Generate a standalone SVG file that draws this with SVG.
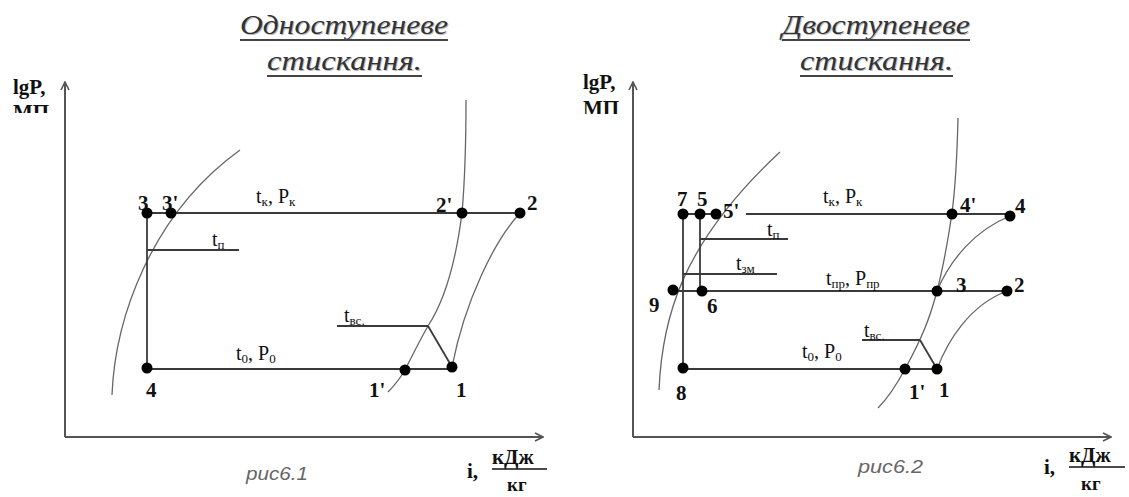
<svg xmlns="http://www.w3.org/2000/svg" width="1129" height="497" viewBox="0 0 1129 497">
<style>
.ax{stroke:#555;stroke-width:2;fill:none}
.ln{stroke:#3a3a3a;stroke-width:1.8;fill:none}
.cv{stroke:#666;stroke-width:1.3;fill:none}
.dot{fill:#000}
.lb{font-family:"Liberation Serif",serif;font-weight:bold;font-size:21px;fill:#111}
.tx{font-family:"Liberation Serif",serif;font-size:20px;fill:#111}
.sub{font-size:13px}
.ttl{font-family:"Liberation Serif",serif;font-style:italic;font-size:27px;fill:#333}
.sh{fill:#bbb}
.cap{font-family:"Liberation Sans",sans-serif;font-style:italic;font-size:19px;fill:#666}
.ul{stroke:#444;stroke-width:2}
.kg{font-size:19px}
</style>
<defs>
<marker id="arr" viewBox="0 0 10 10" refX="9" refY="5" markerWidth="10" markerHeight="10" markerUnits="userSpaceOnUse" orient="auto">
<path d="M1,1 L9,5 L1,9" fill="none" stroke="#555" stroke-width="1.6"/>
</marker>
<clipPath id="clipL"><rect x="0" y="95" width="70" height="18"/></clipPath>
<clipPath id="clipR"><rect x="570" y="95" width="70" height="19"/></clipPath>
</defs>
<rect width="1129" height="497" fill="#fff"/>

<g id="titles">
<text class="ttl sh" x="241" y="35" textLength="208" lengthAdjust="spacingAndGlyphs">Одноступеневе</text>
<text class="ttl" x="240" y="34" textLength="208" lengthAdjust="spacingAndGlyphs">Одноступеневе</text>
<line class="ul" x1="240" y1="40" x2="448" y2="40"/>
<text class="ttl sh" x="268" y="71" textLength="155" lengthAdjust="spacingAndGlyphs">стискання.</text>
<text class="ttl" x="267" y="70" textLength="155" lengthAdjust="spacingAndGlyphs">стискання.</text>
<line class="ul" x1="267" y1="76" x2="422" y2="76"/>
<text class="ttl sh" x="783" y="35" textLength="188" lengthAdjust="spacingAndGlyphs">Двоступеневе</text>
<text class="ttl" x="782" y="34" textLength="188" lengthAdjust="spacingAndGlyphs">Двоступеневе</text>
<line class="ul" x1="782" y1="40" x2="970" y2="40"/>
<text class="ttl sh" x="801" y="71" textLength="153" lengthAdjust="spacingAndGlyphs">стискання.</text>
<text class="ttl" x="800" y="70" textLength="153" lengthAdjust="spacingAndGlyphs">стискання.</text>
<line class="ul" x1="800" y1="76" x2="953" y2="76"/>
</g>

<g id="axes">
<line class="ax" x1="65" y1="437" x2="65" y2="82" marker-end="url(#arr)"/>
<line class="ax" x1="65" y1="437" x2="543" y2="437" marker-end="url(#arr)"/>
<line class="ax" x1="633" y1="437" x2="633" y2="82" marker-end="url(#arr)"/>
<line class="ax" x1="633" y1="437" x2="1111" y2="437" marker-end="url(#arr)"/>
<text class="lb" x="13" y="94">lgP,</text>
<text class="lb" x="13" y="119" clip-path="url(#clipL)">МП</text>
<text class="lb" x="583" y="89">lgP,</text>
<text class="lb" x="583" y="115" clip-path="url(#clipR)">МП</text>
<text class="lb" x="467" y="478">i,</text>
<text class="lb" x="492" y="464">кДж</text>
<line x1="492" y1="469" x2="547" y2="469" stroke="#111" stroke-width="1.5"/>
<text class="lb kg" x="507" y="491">кг</text>
<text class="lb" x="1044" y="474">i,</text>
<text class="lb" x="1069" y="462">кДж</text>
<line x1="1069" y1="467" x2="1125" y2="467" stroke="#111" stroke-width="1.5"/>
<text class="lb kg" x="1081" y="490">кг</text>
<text class="cap" x="246" y="480" textLength="62" lengthAdjust="spacingAndGlyphs">рис6.1</text>
<text class="cap" x="858" y="473" textLength="65" lengthAdjust="spacingAndGlyphs">рис6.2</text>
</g>

<g id="connectors">
<path class="cv" d="M112,395 C115,320 150,215 240,150"/>
<path class="cv" d="M466,100 C466,150 464,190 462,213 C456,260 445,300 428,326 C420,340 412,356 405,370 C399,380 394,386 388,392"/>
<path class="cv" d="M520,213 C495,240 465,300 452,367"/>
<line class="ln" x1="147" y1="213" x2="520" y2="213"/>
<line class="ln" x1="147" y1="213" x2="147" y2="368"/>
<line class="ln" x1="147" y1="250" x2="239" y2="250"/>
<line class="ln" x1="147" y1="369" x2="452" y2="369"/>
<line class="ln" x1="337" y1="326" x2="428" y2="326"/>
<line class="ln" x1="428" y1="326" x2="452" y2="367"/>
<path class="cv" d="M659,390 C662,320 680,245 780,152"/>
<path class="cv" d="M958,118 C957,160 955,190 952,213 C948,240 943,268 937,291 C930,318 922,338 905,369 C897,384 888,398 878,408"/>
<path class="cv" d="M937,291 C950,260 975,230 1010,216"/>
<path class="cv" d="M937,369 C948,340 970,305 1007,291"/>
<line class="ln" x1="683" y1="214" x2="720" y2="214"/>
<line class="ln" x1="746" y1="214" x2="1010" y2="214"/>
<line class="ln" x1="683" y1="214" x2="683" y2="368"/>
<line class="ln" x1="700" y1="214" x2="700" y2="291"/>
<line class="ln" x1="700" y1="239" x2="788" y2="239"/>
<line class="ln" x1="683" y1="274" x2="777" y2="274"/>
<line class="ln" x1="673" y1="291" x2="1007" y2="291"/>
<line class="ln" x1="683" y1="369" x2="937" y2="369"/>
<line class="ln" x1="862" y1="340" x2="920" y2="340"/>
<line class="ln" x1="920" y1="340" x2="937" y2="369"/>
</g>

<g id="labels-left">
<text class="tx" x="256" y="203">t<tspan class="sub" dy="3">к</tspan><tspan dy="-3">, P</tspan><tspan class="sub" dy="3">к</tspan></text>
<text class="tx" x="212" y="246">t<tspan class="sub" dy="3">п</tspan></text>
<text class="tx" x="236" y="360">t<tspan class="sub" dy="3">0</tspan><tspan dy="-3">, P</tspan><tspan class="sub" dy="3">0</tspan></text>
<text class="tx" x="344" y="322">t<tspan class="sub" dy="3">вс.</tspan></text>
</g>
<g id="labels-right">
<text class="tx" x="823" y="203">t<tspan class="sub" dy="3">к</tspan><tspan dy="-3">, P</tspan><tspan class="sub" dy="3">к</tspan></text>
<text class="tx" x="767" y="236">t<tspan class="sub" dy="3">п</tspan></text>
<text class="tx" x="736" y="270">t<tspan class="sub" dy="3">зм</tspan></text>
<text class="tx" x="826" y="285">t<tspan class="sub" dy="3">пр</tspan><tspan dy="-3">, P</tspan><tspan class="sub" dy="3">пр</tspan></text>
<text class="tx" x="802" y="358">t<tspan class="sub" dy="3">0</tspan><tspan dy="-3">, P</tspan><tspan class="sub" dy="3">0</tspan></text>
<text class="tx" x="864" y="337">t<tspan class="sub" dy="3">вс.</tspan></text>
</g>

<g id="p3"><circle class="dot" cx="147" cy="213" r="5.5"/><text class="lb" x="138" y="210">3</text></g>
<g id="p3s"><circle class="dot" cx="171" cy="213" r="5.5"/><text class="lb" x="162" y="210">3'</text></g>
<g id="p2s"><circle class="dot" cx="462" cy="213" r="5.5"/><text class="lb" x="436" y="212">2'</text></g>
<g id="p2"><circle class="dot" cx="520" cy="213" r="5.5"/><text class="lb" x="527" y="210">2</text></g>
<g id="p4"><circle class="dot" cx="147" cy="368" r="5.5"/><text class="lb" x="146" y="397">4</text></g>
<g id="p1s"><circle class="dot" cx="405" cy="370" r="5.5"/><text class="lb" x="369" y="397">1'</text></g>
<g id="p1"><circle class="dot" cx="452" cy="367" r="5.5"/><text class="lb" x="456" y="397">1</text></g>

<g id="q7"><circle class="dot" cx="683" cy="214" r="5.5"/><text class="lb" x="677" y="206">7</text></g>
<g id="q5"><circle class="dot" cx="700" cy="214" r="5.5"/><text class="lb" x="697" y="206">5</text></g>
<g id="q5s"><circle class="dot" cx="716" cy="214" r="5.5"/><text class="lb" x="723" y="218">5'</text></g>
<g id="q4s"><circle class="dot" cx="952" cy="214" r="5.5"/><text class="lb" x="960" y="212">4'</text></g>
<g id="q4"><circle class="dot" cx="1010" cy="216" r="5.5"/><text class="lb" x="1015" y="213">4</text></g>
<g id="q9"><circle class="dot" cx="673" cy="290" r="5.5"/><text class="lb" x="649" y="312">9</text></g>
<g id="q6"><circle class="dot" cx="702" cy="291" r="5.5"/><text class="lb" x="707" y="313">6</text></g>
<g id="q3"><circle class="dot" cx="937" cy="291" r="5.5"/><text class="lb" x="956" y="292">3</text></g>
<g id="q2"><circle class="dot" cx="1007" cy="291" r="5.5"/><text class="lb" x="1014" y="292">2</text></g>
<g id="q8"><circle class="dot" cx="683" cy="368" r="5.5"/><text class="lb" x="676" y="400">8</text></g>
<g id="q1s"><circle class="dot" cx="905" cy="369" r="5.5"/><text class="lb" x="909" y="399">1'</text></g>
<g id="q1"><circle class="dot" cx="937" cy="369" r="5.5"/><text class="lb" x="939" y="397">1</text></g>
</svg>
